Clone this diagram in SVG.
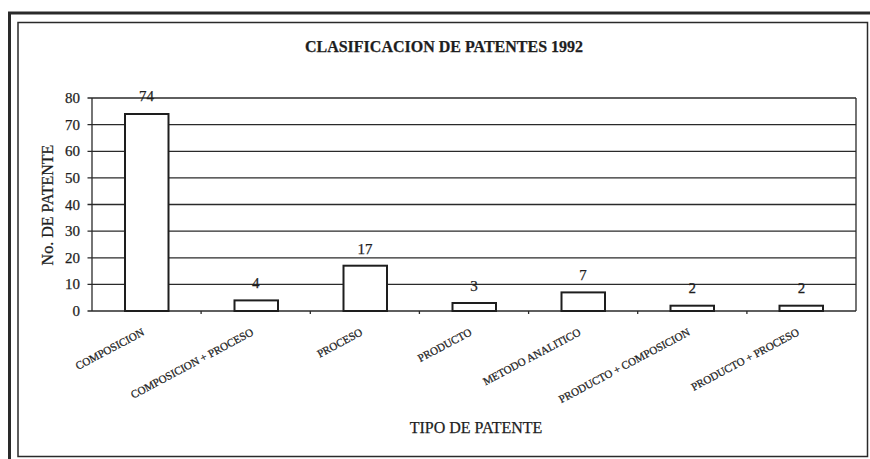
<svg xmlns="http://www.w3.org/2000/svg" width="870" height="459" viewBox="0 0 870 459">
<style>
  text { font-family: "Liberation Serif", "Times New Roman", serif; fill: #1e1e1e; stroke: #1e1e1e; stroke-width: 0.25; }
  .title { font-size: 16px; font-weight: bold; text-anchor: middle; }
  .ytick { font-size: 15px; text-anchor: end; }
  .val { font-size: 15px; text-anchor: middle; }
  .cat { font-size: 11px; text-anchor: end; }
  .axt { font-size: 16px; text-anchor: middle; }
  .grid { stroke: #2a2a2a; stroke-width: 1.3; fill: none; }
  .bar { fill: #ffffff; stroke: #1e1e1e; stroke-width: 2; }
  .frame { fill: none; stroke: #2a2a2a; }
</style>
<rect x="0" y="0" width="870" height="459" fill="#ffffff"/>
<g id="frame">
  <rect class="frame" x="9.5" y="13" width="880" height="470" stroke-width="3"/>
  <rect class="frame" x="18" y="22.5" width="849.5" height="434" stroke-width="1.5"/>
</g>
<g id="title">
  <text class="title" x="444" y="52">CLASIFICACION DE PATENTES 1992</text>
</g>
<g id="axes">
  <line class="grid" x1="87.5" y1="98" x2="856" y2="98"/>
  <line class="grid" x1="87.5" y1="124.6" x2="856" y2="124.6"/>
  <line class="grid" x1="87.5" y1="151.3" x2="856" y2="151.3"/>
  <line class="grid" x1="87.5" y1="177.9" x2="856" y2="177.9"/>
  <line class="grid" x1="87.5" y1="204.5" x2="856" y2="204.5"/>
  <line class="grid" x1="87.5" y1="231.1" x2="856" y2="231.1"/>
  <line class="grid" x1="87.5" y1="257.8" x2="856" y2="257.8"/>
  <line class="grid" x1="87.5" y1="284.4" x2="856" y2="284.4"/>
  <line class="grid" x1="87.5" y1="311" x2="856" y2="311"/>
  <line class="grid" x1="92" y1="98" x2="92" y2="311"/>
  <line class="grid" x1="856" y1="98" x2="856" y2="311"/>
  <g class="grid">
    <line x1="201.1" y1="311" x2="201.1" y2="314"/>
    <line x1="310.3" y1="311" x2="310.3" y2="314"/>
    <line x1="419.4" y1="311" x2="419.4" y2="314"/>
    <line x1="528.6" y1="311" x2="528.6" y2="314"/>
    <line x1="637.7" y1="311" x2="637.7" y2="314"/>
    <line x1="746.9" y1="311" x2="746.9" y2="314"/>
  </g>
  <text class="ytick" x="80" y="103">80</text>
  <text class="ytick" x="80" y="129.6">70</text>
  <text class="ytick" x="80" y="156.3">60</text>
  <text class="ytick" x="80" y="182.9">50</text>
  <text class="ytick" x="80" y="209.5">40</text>
  <text class="ytick" x="80" y="236.1">30</text>
  <text class="ytick" x="80" y="262.8">20</text>
  <text class="ytick" x="80" y="289.4">10</text>
  <text class="ytick" x="80" y="316">0</text>
  <text class="axt" transform="translate(53,205) rotate(-90)">No. DE PATENTE</text>
  <text class="axt" x="476" y="433">TIPO DE PATENTE</text>
</g>
<g id="bar-composicion">
  <rect class="bar" x="125" y="114" width="43.5" height="197"/>
  <text class="val" x="146.6" y="101">74</text>
  <text class="cat" transform="translate(145,334.5) rotate(-28)">COMPOSICION</text>
</g>
<g id="bar-composicion-proceso">
  <rect class="bar" x="234.5" y="300.4" width="43.5" height="10.6"/>
  <text class="val" x="255.7" y="288">4</text>
  <text class="cat" transform="translate(254.2,334.5) rotate(-28)">COMPOSICION + PROCESO</text>
</g>
<g id="bar-proceso">
  <rect class="bar" x="343.5" y="265.7" width="43.5" height="45.3"/>
  <text class="val" x="364.9" y="254">17</text>
  <text class="cat" transform="translate(363.4,334.5) rotate(-28)">PROCESO</text>
</g>
<g id="bar-producto">
  <rect class="bar" x="452.5" y="303" width="43.5" height="8"/>
  <text class="val" x="474" y="291">3</text>
  <text class="cat" transform="translate(472.5,334.5) rotate(-28)">PRODUCTO</text>
</g>
<g id="bar-metodo-analitico">
  <rect class="bar" x="561.5" y="292.4" width="43.5" height="18.6"/>
  <text class="val" x="583.1" y="280">7</text>
  <text class="cat" transform="translate(581.6,334.5) rotate(-28)">METODO ANALITICO</text>
</g>
<g id="bar-producto-composicion">
  <rect class="bar" x="670.5" y="305.7" width="43.5" height="5.3"/>
  <text class="val" x="692.3" y="293">2</text>
  <text class="cat" transform="translate(690.8,334.5) rotate(-28)">PRODUCTO + COMPOSICION</text>
</g>
<g id="bar-producto-proceso">
  <rect class="bar" x="779.5" y="305.7" width="43.5" height="5.3"/>
  <text class="val" x="801.4" y="293">2</text>
  <text class="cat" transform="translate(799.9,334.5) rotate(-28)">PRODUCTO + PROCESO</text>
</g>
<g id="connectors"></g>
</svg>
